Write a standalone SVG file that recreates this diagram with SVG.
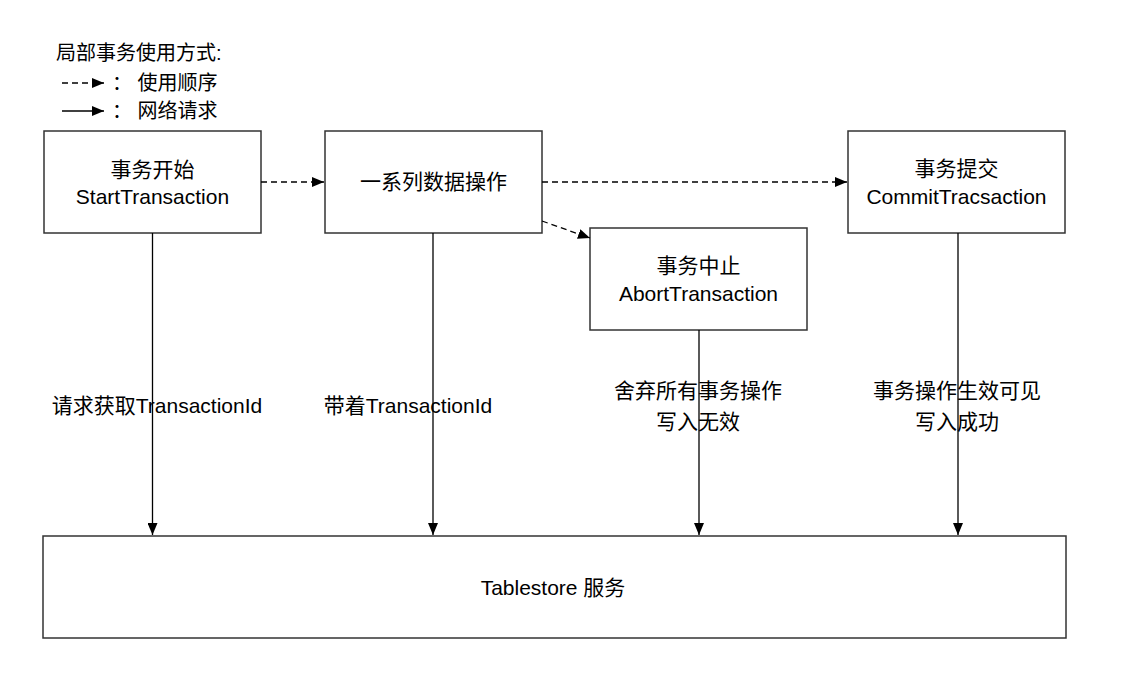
<svg xmlns="http://www.w3.org/2000/svg" width="1121" height="692" viewBox="0 0 1121 692">
<style>
.box{fill:#fff;stroke:#333;stroke-width:1.5}
.t{font-family:"Liberation Sans","Noto Sans CJK SC",sans-serif;font-size:21px;fill:#000;text-anchor:middle}
.lg{font-family:"Liberation Sans","Noto Sans CJK SC",sans-serif;font-size:20px;fill:#000}
.solid{stroke:#000;stroke-width:1.3;fill:none}
.dash{stroke:#000;stroke-width:1.3;fill:none;stroke-dasharray:6 4}
</style>
<defs>
<marker id="ah" viewBox="0 0 12 10" refX="12" refY="5" markerWidth="12" markerHeight="10" markerUnits="userSpaceOnUse" orient="auto">
<path d="M0,0 L12,5 L0,10 Z" fill="#000"/>
</marker>
</defs>
<rect width="1121" height="692" fill="#fff"/>
<g id="legend">
<text class="lg" x="56" y="60">局部事务使用方式:</text>
<line class="dash" x1="62" y1="83" x2="104" y2="83" marker-end="url(#ah)"/>
<text class="lg" x="112" y="90">：  使用顺序</text>
<line class="solid" x1="62" y1="111" x2="104" y2="111" marker-end="url(#ah)"/>
<text class="lg" x="112" y="118">：  网络请求</text>
</g>
<g id="start">
<rect class="box" x="44" y="131" width="217" height="102"/>
<text class="t" x="152.5" y="177">事务开始</text>
<text class="t" x="152.5" y="204">StartTransaction</text>
</g>
<g id="ops">
<rect class="box" x="325" y="131" width="217" height="102"/>
<text class="t" x="433.5" y="189">一系列数据操作</text>
</g>
<g id="abort">
<rect class="box" x="590" y="228" width="217" height="102"/>
<text class="t" x="698.5" y="273">事务中止</text>
<text class="t" x="698.5" y="301">AbortTransaction</text>
</g>
<g id="commit">
<rect class="box" x="848" y="131" width="217" height="102"/>
<text class="t" x="956.5" y="176">事务提交</text>
<text class="t" x="956.5" y="204">CommitTracsaction</text>
</g>
<g id="service">
<rect class="box" x="43" y="536" width="1023" height="102"/>
<text class="t" x="553" y="595">Tablestore 服务</text>
</g>
<g id="connectors">
<line class="dash" x1="261" y1="182" x2="324" y2="182" marker-end="url(#ah)"/>
<line class="dash" x1="542" y1="182" x2="847" y2="182" marker-end="url(#ah)"/>
<line class="dash" x1="542" y1="221" x2="590" y2="238" marker-end="url(#ah)"/>
<line class="solid" x1="152.5" y1="233" x2="152.5" y2="535" marker-end="url(#ah)"/>
<line class="solid" x1="433" y1="233" x2="433" y2="535" marker-end="url(#ah)"/>
<line class="solid" x1="699" y1="330" x2="699" y2="535" marker-end="url(#ah)"/>
<line class="solid" x1="958" y1="233" x2="958" y2="535" marker-end="url(#ah)"/>
</g>
<g id="labels">
<text class="t" x="157" y="413">请求获取TransactionId</text>
<text class="t" x="408" y="413">带着TransactionId</text>
<text class="t" x="698" y="398">舍弃所有事务操作</text>
<text class="t" x="698" y="429">写入无效</text>
<text class="t" x="957" y="398">事务操作生效可见</text>
<text class="t" x="957" y="429">写入成功</text>
</g>
</svg>
